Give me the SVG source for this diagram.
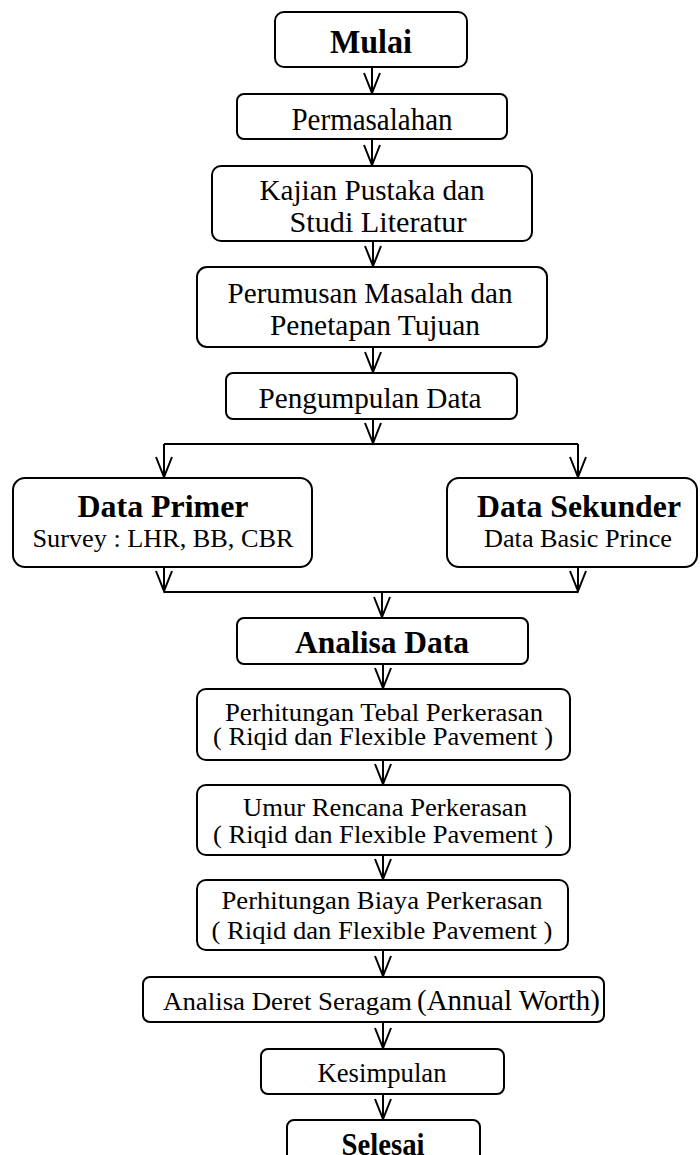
<svg xmlns="http://www.w3.org/2000/svg" width="700" height="1155" viewBox="0 0 700 1155">
<style>
.box{fill:#fff;stroke:#000;stroke-width:2}
.t{font-family:"Liberation Serif","Times New Roman",serif;fill:#000;text-anchor:middle}
.b{font-weight:bold}
.c{fill:none;stroke:#000;stroke-width:2}
</style>
<defs>
<marker id="ah" markerUnits="userSpaceOnUse" markerWidth="30" markerHeight="30" viewBox="-25 -15 30 30" refX="0" refY="0" orient="auto" overflow="visible">
<path d="M-20,-8 L0,0 L-20,8" fill="none" stroke="#000" stroke-width="2"/>
</marker>
</defs>
<rect width="700" height="1155" fill="#fff"/>
<g id="connectors">
<line class="c" x1="372" y1="67" x2="372" y2="93" marker-end="url(#ah)"/>
<line class="c" x1="372" y1="139" x2="372" y2="165" marker-end="url(#ah)"/>
<line class="c" x1="373" y1="241" x2="373" y2="266" marker-end="url(#ah)"/>
<line class="c" x1="373" y1="347" x2="373" y2="372" marker-end="url(#ah)"/>
<line class="c" x1="373" y1="419" x2="373" y2="443" marker-end="url(#ah)"/>
<line class="c" x1="164" y1="444" x2="578" y2="444"/>
<line class="c" x1="164" y1="444" x2="164" y2="477" marker-end="url(#ah)"/>
<line class="c" x1="578" y1="444" x2="578" y2="477" marker-end="url(#ah)"/>
<line class="c" x1="164" y1="567" x2="164" y2="591" marker-end="url(#ah)"/>
<line class="c" x1="578" y1="567" x2="578" y2="591" marker-end="url(#ah)"/>
<line class="c" x1="164" y1="592" x2="578" y2="592"/>
<line class="c" x1="382" y1="592" x2="382" y2="617" marker-end="url(#ah)"/>
<line class="c" x1="383" y1="664" x2="383" y2="688" marker-end="url(#ah)"/>
<line class="c" x1="383" y1="760" x2="383" y2="784" marker-end="url(#ah)"/>
<line class="c" x1="383" y1="855" x2="383" y2="879" marker-end="url(#ah)"/>
<line class="c" x1="383" y1="950" x2="383" y2="976" marker-end="url(#ah)"/>
<line class="c" x1="383" y1="1022" x2="383" y2="1048" marker-end="url(#ah)"/>
<line class="c" x1="383" y1="1094" x2="383" y2="1119" marker-end="url(#ah)"/>
</g>
<g id="mulai">
<rect class="box" x="275" y="12" width="192" height="55" rx="9"/>
<text class="t b" x="371" y="53" font-size="33" textLength="82" lengthAdjust="spacingAndGlyphs">Mulai</text>
</g>
<g id="permasalahan">
<rect class="box" x="237" y="94" width="270" height="45" rx="7"/>
<text class="t" x="372" y="130" font-size="32" textLength="161" lengthAdjust="spacingAndGlyphs">Permasalahan</text>
</g>
<g id="kajian">
<rect class="box" x="212" y="166" width="320" height="75" rx="9"/>
<text class="t" x="372" y="200" font-size="30" textLength="225" lengthAdjust="spacingAndGlyphs">Kajian Pustaka dan</text>
<text class="t" x="378" y="232" font-size="30" textLength="177" lengthAdjust="spacingAndGlyphs">Studi Literatur</text>
</g>
<g id="perumusan">
<rect class="box" x="197" y="267" width="350" height="80" rx="10"/>
<text class="t" x="370" y="303" font-size="30" textLength="285" lengthAdjust="spacingAndGlyphs">Perumusan Masalah dan</text>
<text class="t" x="375" y="335" font-size="30" textLength="210" lengthAdjust="spacingAndGlyphs">Penetapan Tujuan</text>
</g>
<g id="pengumpulan">
<rect class="box" x="226" y="373" width="291" height="46" rx="7"/>
<text class="t" x="370" y="408" font-size="30" textLength="223" lengthAdjust="spacingAndGlyphs">Pengumpulan Data</text>
</g>
<g id="data-primer">
<rect class="box" x="13" y="478" width="299" height="89" rx="12"/>
<text class="t b" x="163" y="517" font-size="31" textLength="171" lengthAdjust="spacingAndGlyphs">Data Primer</text>
<text class="t" x="163" y="547" font-size="26" textLength="261" lengthAdjust="spacingAndGlyphs">Survey : LHR, BB, CBR</text>
</g>
<g id="data-sekunder">
<rect class="box" x="447" y="478" width="250" height="89" rx="12"/>
<text class="t b" x="579" y="517" font-size="31" textLength="204" lengthAdjust="spacingAndGlyphs">Data Sekunder</text>
<text class="t" x="578" y="547" font-size="25" textLength="188" lengthAdjust="spacingAndGlyphs">Data Basic Prince</text>
</g>
<g id="analisa-data">
<rect class="box" x="237" y="618" width="291" height="46" rx="7"/>
<text class="t b" x="382" y="653" font-size="32" textLength="174" lengthAdjust="spacingAndGlyphs">Analisa Data</text>
</g>
<g id="tebal">
<rect class="box" x="197" y="689" width="373" height="71" rx="9"/>
<text class="t" x="384" y="721" font-size="25" textLength="318" lengthAdjust="spacingAndGlyphs">Perhitungan Tebal Perkerasan</text>
<text class="t" x="383" y="745" font-size="25" textLength="340" lengthAdjust="spacingAndGlyphs">( Riqid dan Flexible Pavement )</text>
</g>
<g id="umur">
<rect class="box" x="197" y="785" width="373" height="70" rx="9"/>
<text class="t" x="385" y="816" font-size="25" textLength="284" lengthAdjust="spacingAndGlyphs">Umur Rencana Perkerasan</text>
<text class="t" x="383" y="843" font-size="25" textLength="340" lengthAdjust="spacingAndGlyphs">( Riqid dan Flexible Pavement )</text>
</g>
<g id="biaya">
<rect class="box" x="197" y="880" width="371" height="70" rx="9"/>
<text class="t" x="382" y="909" font-size="25" textLength="321" lengthAdjust="spacingAndGlyphs">Perhitungan Biaya Perkerasan</text>
<text class="t" x="382" y="939" font-size="25" textLength="341" lengthAdjust="spacingAndGlyphs">( Riqid dan Flexible Pavement )</text>
</g>
<g id="deret">
<rect class="box" x="143" y="977" width="461" height="45" rx="7"/>
<text class="t" x="163" y="1010" font-size="26" textLength="249" lengthAdjust="spacingAndGlyphs" style="text-anchor:start">Analisa Deret Seragam</text>
<text class="t" x="417" y="1010" font-size="29" textLength="183" lengthAdjust="spacingAndGlyphs" style="text-anchor:start">(Annual Worth)</text>
</g>
<g id="kesimpulan">
<rect class="box" x="261" y="1049" width="243" height="45" rx="7"/>
<text class="t" x="382" y="1082" font-size="27" textLength="129" lengthAdjust="spacingAndGlyphs">Kesimpulan</text>
</g>
<g id="selesai">
<rect class="box" x="287" y="1120" width="193" height="60" rx="7"/>
<text class="t b" x="383" y="1155" font-size="31" textLength="83" lengthAdjust="spacingAndGlyphs">Selesai</text>
</g>
</svg>
